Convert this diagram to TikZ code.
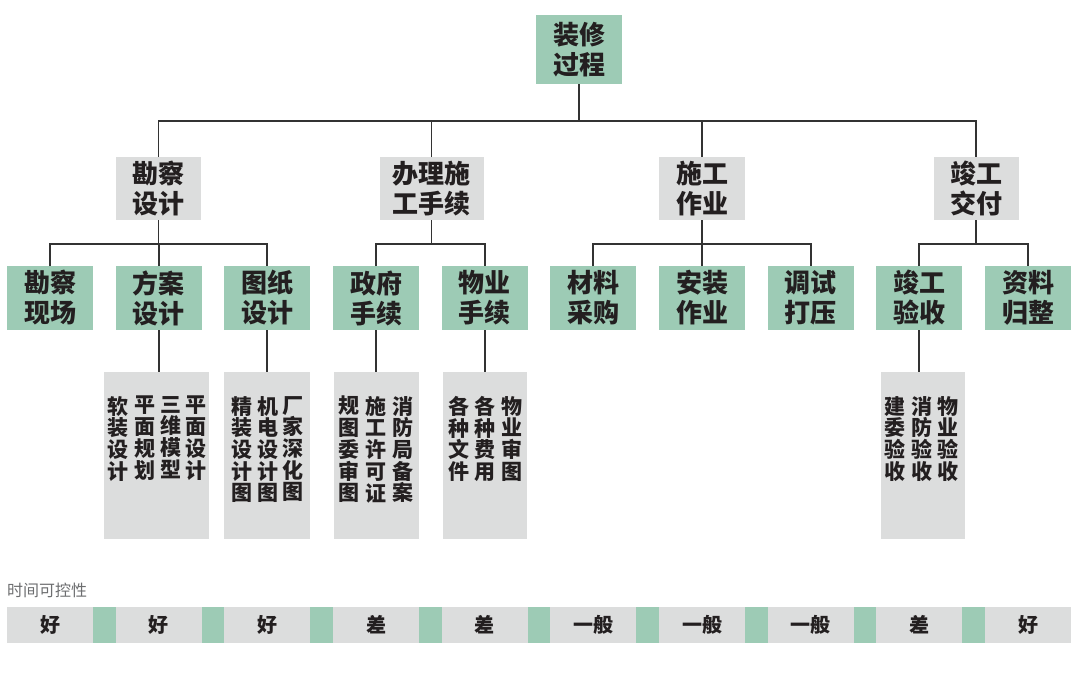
\documentclass[tikz,border=0pt]{standalone}
\usepackage{fontspec}
\newfontfamily\cjk{Noto Sans CJK SC}
\definecolor{boxgreen}{HTML}{9DCBB5}
\definecolor{boxgray}{HTML}{DCDDDD}
\definecolor{ink}{HTML}{231F20}
\definecolor{lineclr}{HTML}{333333}
\definecolor{labelgray}{HTML}{6D6E70}
\begin{document}
\begin{tikzpicture}[x=1pt,y=-1pt,
  base/.style={inner sep=0pt, outer sep=0pt, align=center, text=ink, font=\cjk\bfseries\fontsize{26}{30}\selectfont},
  gbox/.style={base, fill=boxgreen, minimum width=86pt, minimum height=64pt},
  hbox/.style={base, fill=boxgray, minimum height=63pt},
  tbox/.style={fill=boxgray, inner sep=0pt, outer sep=0pt, minimum height=167pt, anchor=north},
  vcol/.style={inner sep=0pt, align=center, text=ink, anchor=north, font=\cjk\bfseries\fontsize{21}{21.7}\selectfont},
  conn/.style={draw=lineclr, line width=1.8pt},
  barseg/.style={fill=boxgray, inner sep=0pt, outer sep=0pt, minimum width=86pt, minimum height=36pt, text=ink, font=\cjk\bfseries\fontsize{20}{24}\selectfont}
]
\useasboundingbox (0,0) rectangle (1080,689);
\fill[white] (0,0) rectangle (1080,689);

% root
\node[gbox, minimum height=69pt] (root) at (579,49.5) {装修\\过程};

% level 2
\node[hbox, minimum width=85pt] (kc) at (158.5,188.5) {勘察\\设计};
\node[hbox, minimum width=104pt] (bl) at (431.5,188.5) {办理施\\工手续};
\node[hbox, minimum width=86pt] (sg) at (702,188.5) {施工\\作业};
\node[hbox, minimum width=85pt] (jg) at (976,188.5) {竣工\\交付};

% level 3
\node[gbox] (kcxc) at (50,298) {勘察\\现场};
\node[gbox] (fa) at (158.7,298) {方案\\设计};
\node[gbox] (tz) at (267.3,298) {图纸\\设计};
\node[gbox] (zf) at (376,298) {政府\\手续};
\node[gbox] (wy) at (484.7,298) {物业\\手续};
\node[gbox] (cl) at (593.3,298) {材料\\采购};
\node[gbox] (az) at (702,298) {安装\\作业};
\node[gbox] (ts) at (810.7,298) {调试\\打压};
\node[gbox] (ys) at (919.3,298) {竣工\\验收};
\node[gbox] (zl) at (1028,298) {资料\\归整};

% level 4 boxes
\node[tbox, minimum width=105pt] (fad) at (156.5,372) {};
\node[tbox, minimum width=86pt] (tzd) at (267,372) {};
\node[tbox, minimum width=85pt] (zfd) at (376.5,372) {};
\node[tbox, minimum width=84pt] (wyd) at (485,372) {};
\node[tbox, minimum width=84pt] (ysd) at (923,372) {};

% vertical texts
\node[vcol] (fa1) at (118,396) {软\\装\\设\\计};
\node[vcol] (fa2) at (145,396) {平\\面\\规\\划};
\node[vcol] (fa3) at (171,396) {三\\维\\模\\型};
\node[vcol] (fa4) at (196,396) {平\\面\\设\\计};
\node[vcol] (tz1) at (242,396) {精\\装\\设\\计\\图};
\node[vcol] (tz2) at (268,396) {机\\电\\设\\计\\图};
\node[vcol] (tz3) at (293,396) {厂\\家\\深\\化\\图};
\node[vcol] (zf1) at (349,396) {规\\图\\委\\审\\图};
\node[vcol] (zf2) at (376,396) {施\\工\\许\\可\\证};
\node[vcol] (zf3) at (403,396) {消\\防\\局\\备\\案};
\node[vcol] (wy1) at (459,396) {各\\种\\文\\件};
\node[vcol] (wy2) at (485,396) {各\\种\\费\\用};
\node[vcol] (wy3) at (512,396) {物\\业\\审\\图};
\node[vcol] (ys1) at (895,396) {建\\委\\验\\收};
\node[vcol] (ys2) at (922,396) {消\\防\\验\\收};
\node[vcol] (ys3) at (948,396) {物\\业\\验\\收};

% connectors level 1 -> 2
\coordinate (j0) at (579,121);
\draw[conn] (root.south) -- (root.south |- j0);
\draw[conn] (kc.north) -- (kc.north |- j0) -- (jg.north |- j0) -- (jg.north);
\draw[conn] (bl.north) -- (bl.north |- j0);
\draw[conn] (sg.north) -- (sg.north |- j0);

% connectors level 2 -> 3
\coordinate (j1) at (0,244);
\draw[conn] (kc.south) -- (kc.south |- j1);
\draw[conn] (kcxc.north) -- (kcxc.north |- j1) -- (tz.north |- j1) -- (tz.north);
\draw[conn] (fa.north) -- (fa.north |- j1);
\draw[conn] (bl.south) -- (bl.south |- j1);
\draw[conn] (zf.north) -- (zf.north |- j1) -- (wy.north |- j1) -- (wy.north);
\draw[conn] (sg.south) -- (sg.south |- j1);
\draw[conn] (cl.north) -- (cl.north |- j1) -- (ts.north |- j1) -- (ts.north);
\draw[conn] (az.north) -- (az.north |- j1);
\draw[conn] (jg.south) -- (jg.south |- j1);
\draw[conn] (ys.north) -- (ys.north |- j1) -- (zl.north |- j1) -- (zl.north);

% connectors level 3 -> 4
\draw[conn] (fa.south) -- (fa.south |- fad.north);
\draw[conn] (tz.south) -- (tz.south |- tzd.north);
\draw[conn] (zf.south) -- (zf.south |- zfd.north);
\draw[conn] (wy.south) -- (wy.south |- wyd.north);
\draw[conn] (ys.south) -- (ys.south |- ysd.north);

% time controllability bar
\node[anchor=west, inner sep=0pt, text=labelgray, font=\cjk\fontsize{16}{18}\selectfont] (tlabel) at (7,590) {时间可控性};
\fill[boxgreen] (7,607) rectangle (1071,643);
\node[barseg] (b1) at (50,625) {好};
\node[barseg] (b2) at (158.7,625) {好};
\node[barseg] (b3) at (267.3,625) {好};
\node[barseg] (b4) at (376,625) {差};
\node[barseg] (b5) at (484.7,625) {差};
\node[barseg] (b6) at (593.3,625) {一般};
\node[barseg] (b7) at (702,625) {一般};
\node[barseg] (b8) at (810.7,625) {一般};
\node[barseg] (b9) at (919.3,625) {差};
\node[barseg] (b10) at (1028,625) {好};
\end{tikzpicture}
\end{document}
